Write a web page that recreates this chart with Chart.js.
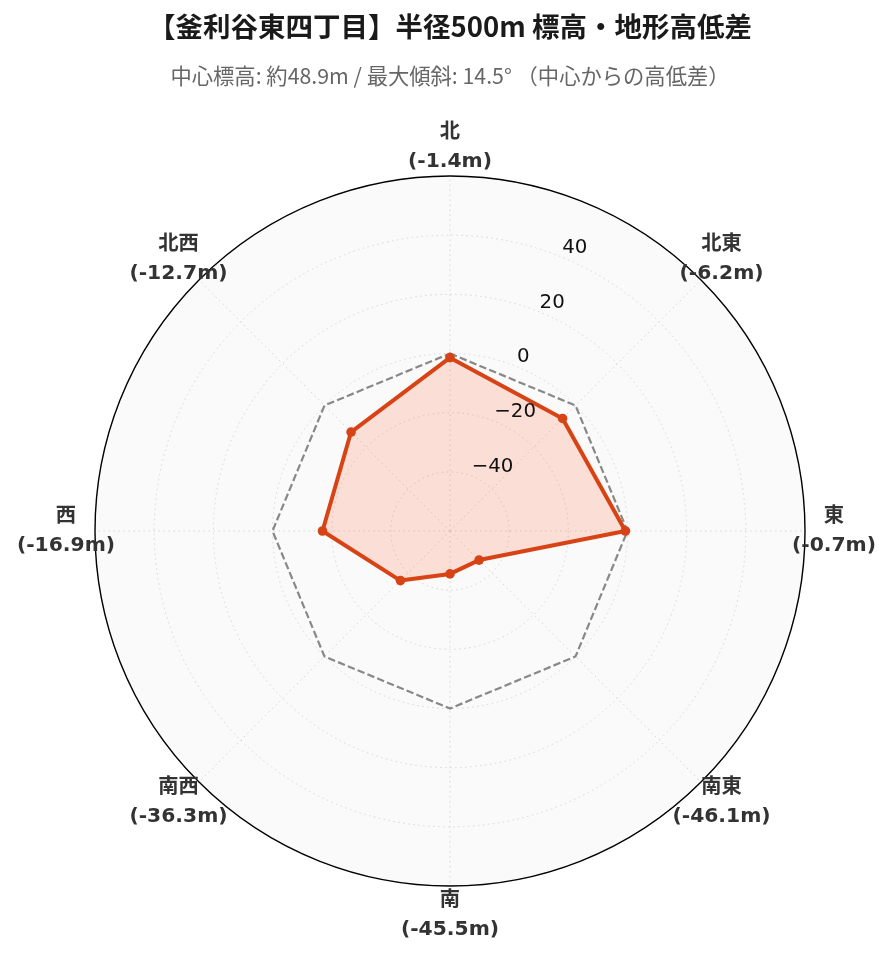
<!DOCTYPE html>
<html><head><meta charset="utf-8">
<script src="https://cdn.jsdelivr.net/npm/chart.js@4.4.1/dist/chart.umd.min.js"></script>
<style>html,body{margin:0;padding:0;background:#fff;}canvas{display:block;}</style>
</head><body>
<canvas id="c" width="892" height="962"></canvas>
<script>
const directions = ['北','北東','東','南東','南','南西','西','北西'];
const elevationDiff = [-1.4, -6.2, -0.7, -46.1, -45.5, -36.3, -16.9, -12.7];
const referenceLine = [0, 0, 0, 0, 0, 0, 0, 0];
const tickValues = [-40, -20, 0, 20, 40];
const tickLabels = ['−40', '−20', '0', '20', '40'];
const titleText = '【釜利谷東四丁目】半径500m 標高・地形高低差';
const subtitleText = '中心標高: 約48.9m / 最大傾斜: 14.5° （中心からの高低差）';
const rMin = -60, rMax = 60, rStep = 20;

const decor = {
  id: 'decor',
  afterDraw(chart) {
    const s = chart.scales.r, ctx = chart.ctx;
    ctx.save();
    ctx.beginPath();
    ctx.arc(s.xCenter, s.yCenter, s.drawingArea, 0, Math.PI * 2);
    ctx.strokeStyle = '#000';
    ctx.lineWidth = 1.4;
    ctx.stroke();
    ctx.font = "19.8px 'DejaVu Sans', sans-serif";
    ctx.fillStyle = '#111';
    ctx.textAlign = 'left';
    ctx.textBaseline = 'bottom';
    tickValues.forEach((v, i) => {
      const p = s.getPointPosition(0.5, s.getDistanceFromCenterForValue(v));
      ctx.fillText(tickLabels[i], p.x - 1, p.y);
    });
    ctx.font = "bold 20.3px 'DejaVu Sans', 'Noto Sans CJK JP', sans-serif";
    ctx.fillStyle = '#333';
    ctx.textAlign = 'center';
    ctx.textBaseline = 'middle';
    directions.forEach((d, i) => {
      const p = s.getPointPosition(i, s.drawingArea + 29);
      ctx.fillText(d, p.x, p.y - 14.5);
      ctx.fillText('(' + elevationDiff[i].toFixed(1) + 'm)', p.x, p.y + 14.5);
    });
    ctx.restore();
  }
};

new Chart(document.getElementById('c'), {
  type: 'radar',
  data: {
    labels: directions,
    datasets: [
      {
        label: '高低差',
        data: elevationDiff,
        borderColor: '#d84315',
        backgroundColor: 'rgba(255,112,67,0.2)',
        borderWidth: 4,
        borderJoinStyle: 'round',
        pointRadius: 4.8,
        pointBackgroundColor: '#d84315',
        pointBorderWidth: 0,
        fill: 'start',
        tension: 0,
        order: 1
      },
      {
        label: '基準 (0m)',
        data: referenceLine,
        borderColor: '#888888',
        borderDash: [7.4, 3.2],
        borderWidth: 2.2,
        pointRadius: 0,
        fill: false,
        tension: 0,
        order: 2
      }
    ]
  },
  options: {
    responsive: false,
    animation: false,
    layout: { padding: { left: 94, right: 86, top: 0, bottom: 75 } },
    plugins: {
      legend: { display: false },
      tooltip: { enabled: false },
      title: {
        display: true, text: titleText, color: '#1a1a1a',
        font: { family: "'Noto Sans CJK JP', sans-serif", size: 27.5, weight: 'bold' },
        padding: { top: 10.5, bottom: 0 }
      },
      subtitle: {
        display: true, text: subtitleText, color: '#666666',
        font: { family: "'Noto Sans CJK JP', sans-serif", size: 21.3, weight: 'normal' },
        padding: { top: 19.5, bottom: 86.8 }
      }
    },
    scales: {
      r: {
        min: rMin, max: rMax,
        startAngle: 0,
        backgroundColor: '#fafafa',
        ticks: { display: false, stepSize: rStep },
        pointLabels: { display: false },
        grid: { circular: true, color: '#d6d6d6', lineWidth: 1 },
        border: { dash: [1.5, 3.5] },
        angleLines: { display: true, color: '#d6d6d6', lineWidth: 1, borderDash: [1.5, 3.5] }
      }
    }
  },
  plugins: [decor]
});
</script>
</body></html>
